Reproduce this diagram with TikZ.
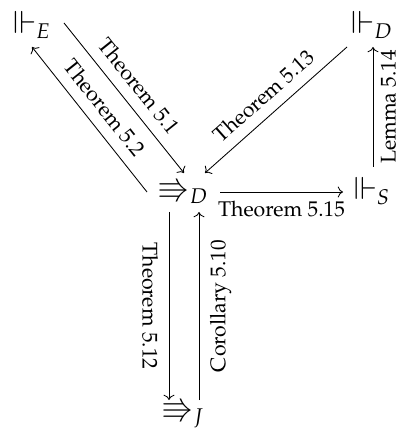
\documentclass[tikz,border=0pt]{standalone}
\usepackage[T1]{fontenc}
\usepackage{mathpazo}
\usepackage{amsmath}
\usepackage{amssymb}
\usepackage{tikz}
\usetikzlibrary{arrows.meta}

\begin{document}
\begin{tikzpicture}[x=0.47pt, y=-0.47pt, >=To,
    rel/.style={inner sep=0pt, font=\Large},
    lbl/.style={midway, sloped, inner sep=5pt, font=\normalsize}]
      \useasboundingbox (0,0) rectangle (399,431);
      % relations
      \node[rel] (vE) at (32,25) {$\Vdash_E$};
      \node[rel] (vD) at (372,25) {$\Vdash_D$};
      \node[rel] (rD) at (183,191) {$\Rrightarrow_D$};
      \node[rel] (vS) at (372,191) {$\Vdash_S$};
      \node[rel] (rJ) at (183,413) {$\Rrightarrow_J$};
      % diagonals
      \draw[->] ([shift={(32,-2)}]vE.center) -- ([shift={(1,-18)}]rD.center)
        node[lbl, above] {Theorem 5.1};
      \draw[->] ([shift={(-36,1)}]rD.center) -- ([shift={(0,22)}]vE.center)
        node[lbl, above] {Theorem 5.2};
      \draw[->] ([shift={(-25,22)}]vD.center) -- ([shift={(22,-18)}]rD.center)
        node[lbl, above] {Theorem 5.13};
      % right side
      \draw[->] ([shift={(1,-24)}]vS.center) -- ([shift={(1,22)}]vD.center)
        node[lbl, below, inner sep=3.5pt] {Lemma 5.14};
      \draw[->] ([shift={(37,1)}]rD.center) -- ([shift={(-29,1)}]vS.center)
        node[midway, below, inner sep=4pt] {Theorem 5.15};
      % down and up
      \draw[->] ([shift={(-14,21)}]rD.center) -- ([shift={(-14,-13)}]rJ.center)
        node[lbl, below] {Theorem 5.12};
      \draw[->] ([shift={(16,-13)}]rJ.center) -- ([shift={(16,21)}]rD.center)
        node[lbl, below] {Corollary 5.10};
\end{tikzpicture}
\end{document}
